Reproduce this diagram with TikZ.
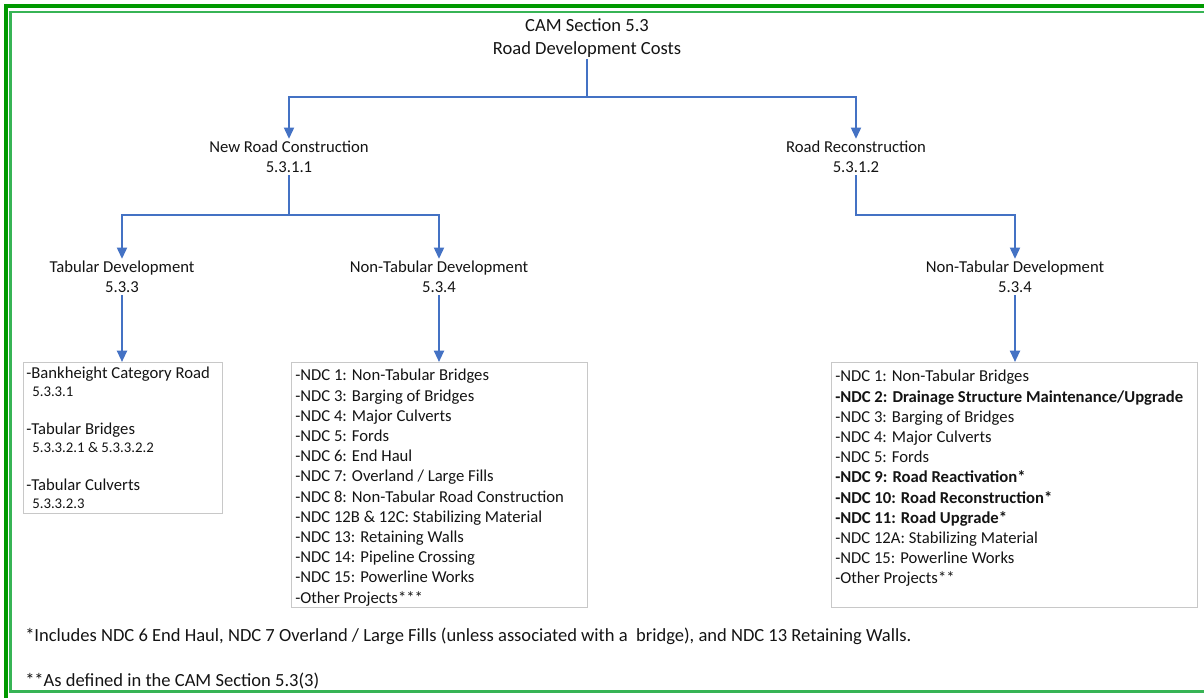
\documentclass[tikz,border=0pt]{standalone}
\usepackage{fontspec}
\setmainfont{Carlito}
\usetikzlibrary{arrows.meta}
\definecolor{lnblue}{RGB}{68,114,196}
\definecolor{dkgreen}{RGB}{0,153,0}
\definecolor{ltgreen}{RGB}{55,180,85}
\definecolor{boxgray}{RGB}{200,200,200}
\definecolor{txt}{RGB}{20,20,20}
\begin{document}
\begin{tikzpicture}[x=0.75pt,y=-0.75pt,
  conn/.style={draw=lnblue,line width=1.5pt},
  arr/.style={conn,-{Triangle[width=7.5pt,length=8.5pt]}},
  lbl/.style={align=center,text=txt,font=\fontsize{12.5}{15}\selectfont,inner sep=1.5pt},
  listbox/.style={draw=boxgray,line width=0.75pt,anchor=north west,inner sep=0pt},
  item/.style={anchor=base west,inner sep=0pt,text=txt,font=\fontsize{12.5}{15}\selectfont},
  subitem/.style={anchor=base west,inner sep=0pt,text=txt,font=\fontsize{11.1}{13}\selectfont},
  note/.style={anchor=base west,inner sep=0pt,text=txt,font=\fontsize{13.9}{16}\selectfont}]
\useasboundingbox (0,0) rectangle (1204,698);
\clip (0,0) rectangle (1204,698);
% frame
\draw[dkgreen,line width=3pt] (6,6.5) rectangle (1220,712);
\draw[ltgreen,line width=1.8pt] (10.5,12) rectangle (1215,691.5);
% tree labels
\node[lbl,font=\fontsize{13.9}{17.25}\selectfont,inner sep=1pt] (t) at (587,38.5) {CAM Section 5.3\\Road Development Costs};
\node[lbl] (nrc) at (289,157) {New Road Construction\\5.3.1.1};
\node[lbl] (rr) at (856,157) {Road Reconstruction\\5.3.1.2};
\node[lbl] (td) at (122,277) {Tabular Development\\5.3.3};
\node[lbl] (ntda) at (439,277) {Non-Tabular Development\\5.3.4};
\node[lbl] (ntdb) at (1015,277) {Non-Tabular Development\\5.3.4};
% boxes
\node[listbox,minimum width={199*0.75pt},minimum height={151*0.75pt}] (ba) at (23,362) {};
\node[listbox,minimum width={296*0.75pt},minimum height={245*0.75pt}] (bb) at (291,362) {};
\node[listbox,minimum width={366*0.75pt},minimum height={245*0.75pt}] (bc) at (831,362) {};
% junctions
\coordinate (ja) at (587,97);
\coordinate (jb) at (289,215);
\coordinate (jc) at (856,215);
% connectors
\draw[arr] (t.south) -- (ja) -| (nrc.north);
\draw[arr] (ja) -| (rr.north);
\draw[arr] (nrc.south) -- (jb) -| (td.north);
\draw[arr] (jb) -| (ntda.north);
\draw[arr] (rr.south) -- (jc) -| (ntdb.north);
\draw[arr] (td.south) -- (td.south |- ba.north);
\draw[arr] (ntda.south) -- (ntda.south |- bb.north);
\draw[arr] (ntdb.south) -- (ntdb.south |- bc.north);
% box a
\node[item] (a1) at (26,379) {-Bankheight Category Road};
\node[subitem] (a1s) at (32,397) {5.3.3.1};
\node[item] (a2) at (26,435) {-Tabular Bridges};
\node[subitem] (a2s) at (32,453) {5.3.3.2.1 \& 5.3.3.2.2};
\node[item] (a3) at (26,491) {-Tabular Culverts};
\node[subitem] (a3s) at (32,509) {5.3.3.2.3};
% box b
\foreach \s [count=\i] in {-NDC 1: Non-Tabular Bridges,-NDC 3: Barging of Bridges,-NDC 4: Major Culverts,-NDC 5: Fords,-NDC 6: End Haul,-NDC 7: Overland / Large Fills,-NDC 8: Non-Tabular Road Construction,-NDC 12B \& 12C: Stabilizing Material,-NDC 13: Retaining Walls,-NDC 14: Pipeline Crossing,-NDC 15: Powerline Works,-Other Projects***}
  \node[item] (bl\i) at (295,{381+(\i-1)*20.2}) {\s};
% box c
\foreach \s [count=\i] in {-NDC 1: Non-Tabular Bridges,{\bfseries -NDC 2: Drainage Structure Maintenance/Upgrade},-NDC 3: Barging of Bridges,-NDC 4: Major Culverts,-NDC 5: Fords,{\bfseries -NDC 9: Road Reactivation*},{\bfseries -NDC 10: Road Reconstruction*},{\bfseries -NDC 11: Road Upgrade*},-NDC 12A: Stabilizing Material,-NDC 15: Powerline Works,-Other Projects**}
  \node[item] (cl\i) at (835,{382+(\i-1)*20.2}) {\s};
% footnotes
\node[note] (fa) at (25,641) {*Includes NDC 6 End Haul, NDC 7 Overland / Large Fills (unless associated with a\ \ bridge), and NDC 13 Retaining Walls.};
\node[note] (fb) at (25,686) {**As defined in the CAM Section 5.3(3)};
\end{tikzpicture}
\end{document}
